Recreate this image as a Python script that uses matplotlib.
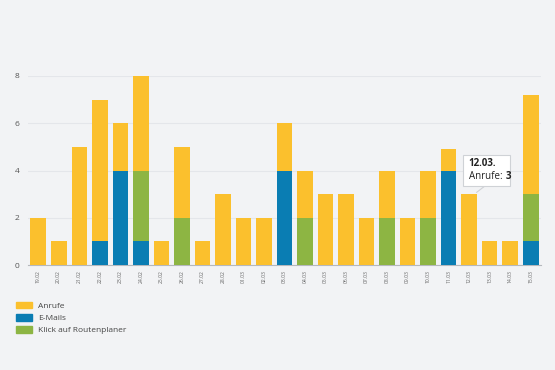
import numpy as np
import matplotlib
matplotlib.use('Agg')
from matplotlib import pyplot as plt
from matplotlib.patches import Patch, Rectangle

# data
days = ['19.02', '20.02', '21.02', '22.02', '23.02', '24.02', '25.02', '26.02',
        '27.02', '28.02', '01.03', '02.03', '03.03', '04.03', '05.03', '06.03',
        '07.03', '08.03', '09.03', '10.03', '11.03', '12.03', '13.03', '14.03',
        '15.03']
emails = [0, 0, 0, 1, 4, 1, 0, 0, 0, 0, 0, 0, 4, 0, 0, 0, 0, 0, 0, 0, 4, 0, 0, 0, 1]
route = [0, 0, 0, 0, 0, 3, 0, 2, 0, 0, 0, 0, 0, 2, 0, 0, 0, 2, 0, 2, 0, 0, 0, 0, 2]
calls = [2, 1, 5, 6, 2, 4, 1, 3, 1, 3, 2, 2, 2, 2, 3, 3, 2, 2, 2, 2, 0.9, 3, 1, 1, 4.2]
series_names = ['Anrufe', 'E-Mails', 'Klick auf Routenplaner']

YELLOW = '#fbc02d'
BLUE = '#0a7db3'
GREEN = '#8db543'
BG = '#f2f3f5'


def main():
    plt.rcParams['font.family'] = ['Open Sans', 'DejaVu Sans']
    fig = plt.figure(figsize=(5.55, 3.7), dpi=100, facecolor=BG)
    ax = fig.add_axes([28 / 555, 105 / 370, 513 / 555, 189 / 370])
    ax.set_facecolor(BG)

    x = np.arange(len(days))
    e = np.array(emails, dtype=float)
    r = np.array(route, dtype=float)
    c = np.array(calls, dtype=float)
    w = 0.76
    ax.bar(x, e, w, color=BLUE, zorder=3)
    ax.bar(x, r, w, bottom=e, color=GREEN, zorder=3)
    ax.bar(x, c, w, bottom=e + r, color=YELLOW, zorder=3)

    ax.set_xlim(-0.5, len(days) - 0.5)
    ax.set_ylim(0, 8)
    ax.set_yticks([0, 2, 4, 6, 8])
    ax.yaxis.grid(True, color='#e4e6ea', linewidth=0.8, zorder=0)
    for s in ['top', 'right', 'left']:
        ax.spines[s].set_visible(False)
    ax.spines['bottom'].set_color('#b5b8bd')
    ax.spines['bottom'].set_linewidth(0.8)
    ax.tick_params(axis='y', length=0, labelsize=6, labelcolor='#555555', pad=6)
    ax.set_xticks(x)
    ax.set_xticklabels(days, rotation=90, fontsize=3.6, color='#666666')
    ax.tick_params(axis='x', length=0, pad=4)

    # tooltip for 12.03.
    i = days.index('12.03')
    top = e[i] + r[i] + c[i]
    ax.annotate('', xy=(i + 0.25, top), xytext=(i + 0.85, top + 0.4),
                arrowprops=dict(arrowstyle='-', color='#cfd2d6', lw=0.8), zorder=5)
    ax.add_patch(Rectangle((i - 0.3, 3.35), 2.3, 1.32,
                 facecolor='white', edgecolor='#cfd2d6', lw=0.8, zorder=6))
    ax.text(i - 0.03, 4.28, '12.03.', fontsize=7, fontweight='bold', color='#222222',
            va='center', ha='left', zorder=7)
    lab = ax.text(i - 0.03, 3.73, 'Anrufe:', fontsize=7, color='#222222',
                  va='center', ha='left', zorder=7)
    ax.annotate('3', xy=(1, 0.5), xycoords=lab, xytext=(2.5, 0),
                textcoords='offset points', fontsize=7, fontweight='bold',
                color='#222222', va='center', ha='left', zorder=7)

    handles = [Patch(color=YELLOW), Patch(color=BLUE), Patch(color=GREEN)]
    fig.legend(handles, series_names, loc='upper left',
               bbox_to_anchor=(8 / 555, 1 - 294 / 370), frameon=False,
               fontsize=6, handlelength=2.0, handleheight=0.9,
               labelspacing=0.45, handletextpad=0.7, labelcolor='#444444')

    fig.savefig('out.png', dpi=100, facecolor=BG)


if __name__ == "__main__":
    main()
